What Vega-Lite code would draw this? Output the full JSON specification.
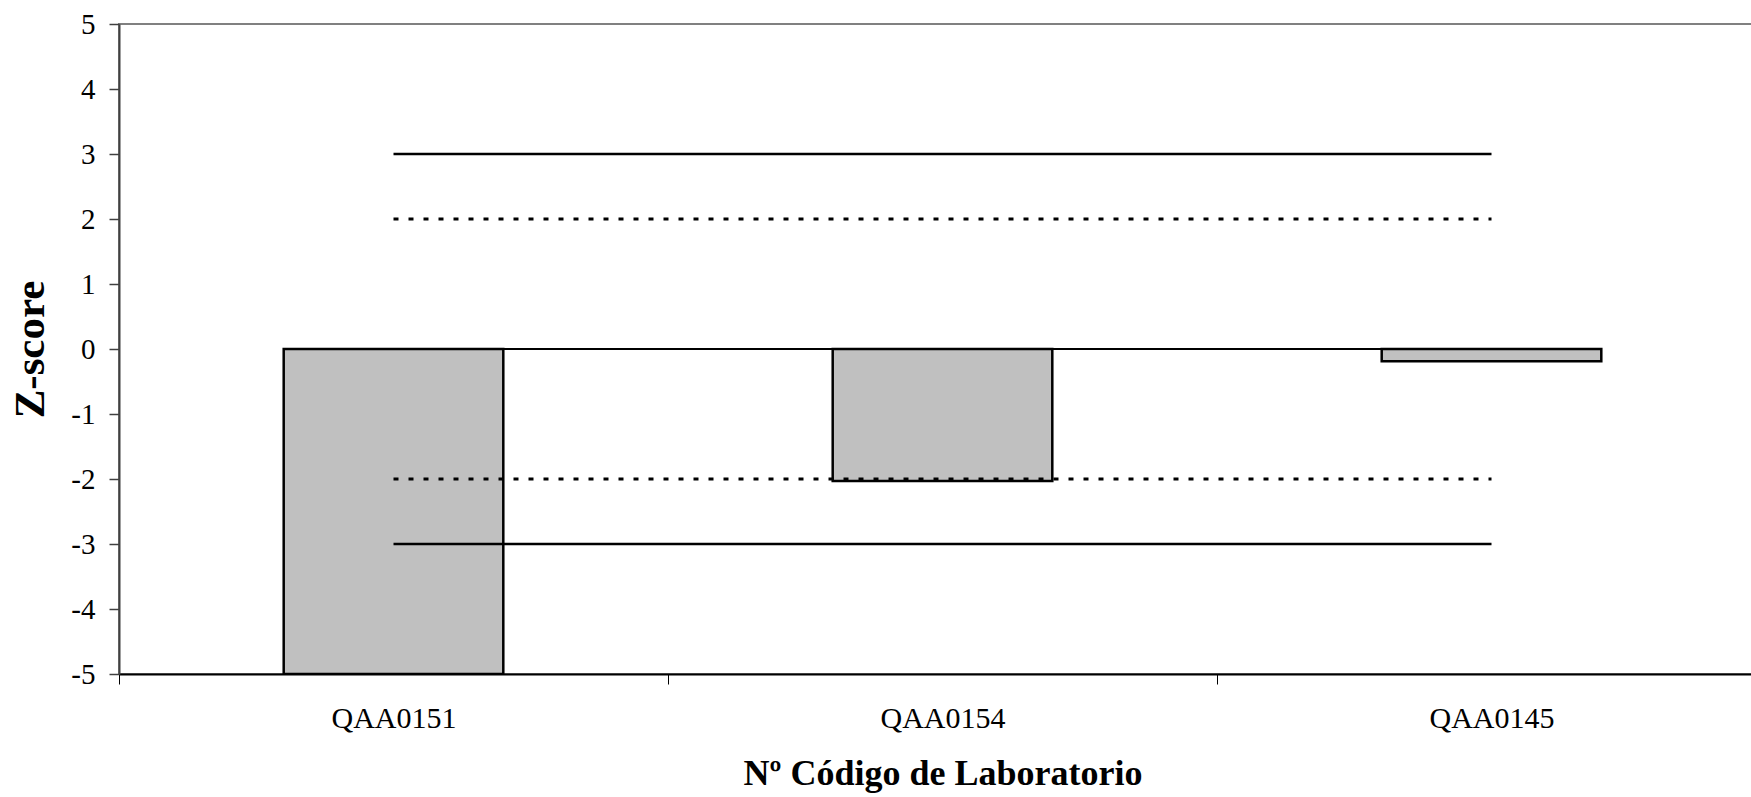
{
  "$schema": "https://vega.github.io/schema/vega-lite/v6.json",
  "autosize": {"type": "none"},
  "padding": {"left": 119, "top": 24, "right": -15, "bottom": 123},
  "width": 1647,
  "height": 650,
  "background": "white",
  "config": {
    "font": "Liberation Serif",
    "view": {"stroke": "#808080", "strokeWidth": 2}
  },
  "datasets": {
    "bars": [
      {"lab": "QAA0151", "z": -5},
      {"lab": "QAA0154", "z": -2.03},
      {"lab": "QAA0145", "z": -0.19}
    ],
    "levels": [
      {"lab": "QAA0151", "nivel": 3}, {"lab": "QAA0154", "nivel": 3}, {"lab": "QAA0145", "nivel": 3},
      {"lab": "QAA0151", "nivel": 2}, {"lab": "QAA0154", "nivel": 2}, {"lab": "QAA0145", "nivel": 2},
      {"lab": "QAA0151", "nivel": 0}, {"lab": "QAA0154", "nivel": 0}, {"lab": "QAA0145", "nivel": 0},
      {"lab": "QAA0151", "nivel": -2}, {"lab": "QAA0154", "nivel": -2}, {"lab": "QAA0145", "nivel": -2},
      {"lab": "QAA0151", "nivel": -3}, {"lab": "QAA0154", "nivel": -3}, {"lab": "QAA0145", "nivel": -3}
    ]
  },
  "encoding": {
    "x": {
      "field": "lab",
      "type": "nominal",
      "sort": ["QAA0151", "QAA0154", "QAA0145"],
      "scale": {"type": "band", "paddingInner": 0, "paddingOuter": 0},
      "axis": {
        "title": "Nº Código de Laboratorio",
        "titleFont": "Liberation Serif",
        "titleFontSize": 36,
        "titleFontWeight": "bold",
        "titleColor": "black",
        "titleBaseline": "alphabetic",
        "titleY": 110,
        "labelAngle": 0,
        "labelFontSize": 30,
        "labelColor": "black",
        "labelBaseline": "middle",
        "labelPadding": 34,
        "tickBand": "extent",
        "tickSize": 10,
        "tickColor": "black",
        "tickWidth": 1,
        "domainColor": "black",
        "domainWidth": 2,
        "grid": false
      }
    }
  },
  "layer": [
    {
      "data": {"name": "bars"},
      "mark": {"type": "bar", "width": {"band": 0.4}, "fill": "#c0c0c0", "stroke": "black", "strokeWidth": 2.5, "clip": true},
      "encoding": {
        "y": {
          "field": "z",
          "type": "quantitative",
          "scale": {"domain": [-5, 5], "nice": false, "zero": true},
          "axis": {
            "title": "Z-score",
            "titleFont": "Liberation Serif",
            "titleFontSize": 43,
            "titleFontWeight": "bold",
            "titleColor": "black",
            "titleAngle": -90,
            "titleAlign": "center",
            "titleBaseline": "middle",
            "titleX": -89,
            "titleY": 325,
            "values": [-5, -4, -3, -2, -1, 0, 1, 2, 3, 4, 5],
            "labelExpr": "'' + datum.value",
            "labelFontSize": 29,
            "labelColor": "black",
            "labelPadding": 14,
            "tickSize": 10,
            "tickColor": "#404040",
            "tickWidth": 1.5,
            "domainColor": "#404040",
            "domainWidth": 2,
            "grid": false
          }
        }
      }
    },
    {
      "data": {"name": "levels"},
      "transform": [{"filter": "datum.nivel == 3 || datum.nivel == -3"}],
      "mark": {"type": "line", "color": "black", "strokeWidth": 2.5},
      "encoding": {
        "y": {"field": "nivel", "type": "quantitative"},
        "detail": {"field": "nivel"}
      }
    },
    {
      "data": {"name": "levels"},
      "transform": [{"filter": "datum.nivel == 2 || datum.nivel == -2"}],
      "mark": {"type": "line", "color": "black", "strokeWidth": 3, "strokeDash": [5, 10]},
      "encoding": {
        "y": {"field": "nivel", "type": "quantitative"},
        "detail": {"field": "nivel"}
      }
    },
    {
      "data": {"name": "levels"},
      "transform": [{"filter": "datum.nivel == 0"}],
      "mark": {"type": "line", "color": "black", "strokeWidth": 2},
      "encoding": {
        "y": {"field": "nivel", "type": "quantitative"}
      }
    }
  ]
}
